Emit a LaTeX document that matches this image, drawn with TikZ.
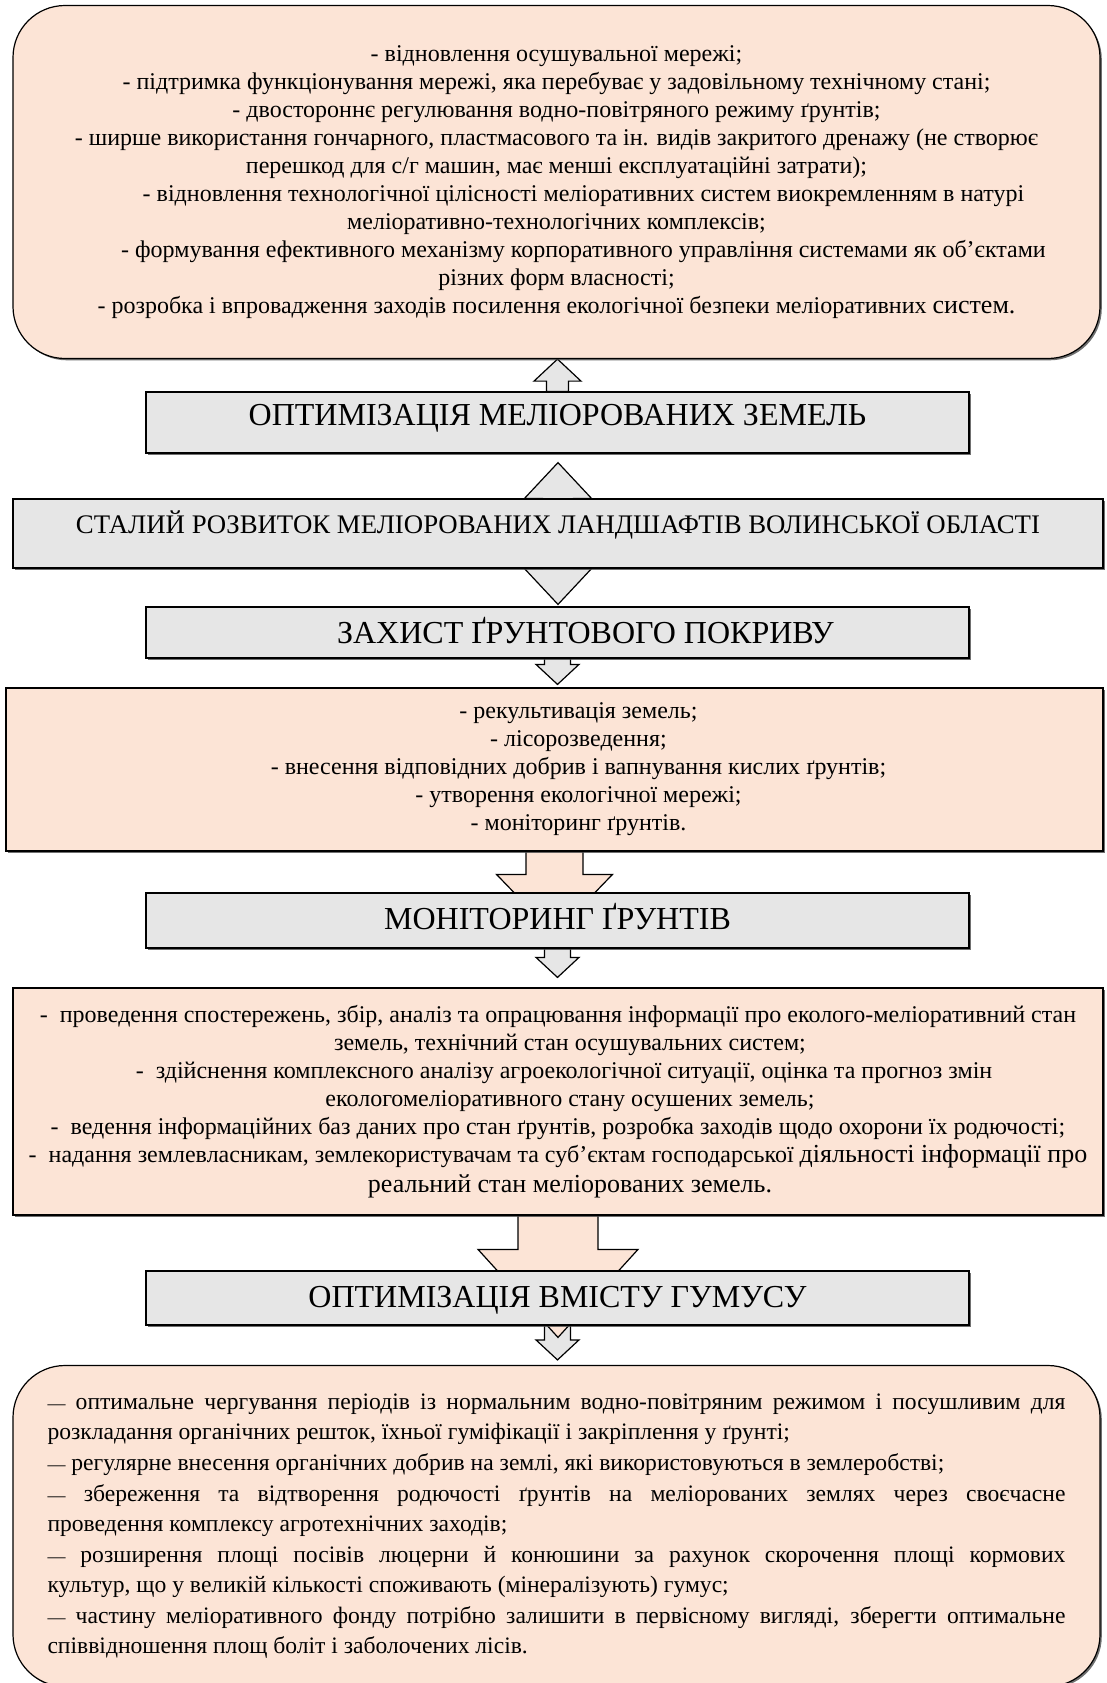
\documentclass[tikz,border=0pt]{standalone}
\usepackage{fontspec}
\setmainfont{Liberation Serif}
\usetikzlibrary{calc,backgrounds,shadows}
\definecolor{peachbg}{RGB}{252,228,214}
\definecolor{greybg}{RGB}{230,230,230}

\begin{document}
\begin{tikzpicture}[x=.5pt,y=-.5pt,
    every node/.style={font=\fontsize{12}{14}\selectfont},
    boxshadow/.style={drop shadow={shadow xshift=.9pt,shadow yshift=-.9pt,fill=black!70,opacity=.8}},
    listbox/.style={draw=black,line width=.6pt,fill=peachbg,inner sep=0pt,align=center,boxshadow},
    roundbox/.style={listbox,rounded corners=26pt},
    headbox/.style={draw=black,line width=.6pt,fill=greybg,inner sep=0pt,minimum width=411.5pt,boxshadow,font=\fontsize{16}{18}\selectfont,text height=.9em,text depth=0pt},
    hollow/.style={draw=black,line width=.6pt,fill=greybg},
    fatarrow/.style={draw=black,line width=.6pt,fill=peachbg}]
  \useasboundingbox (0,0) rectangle (1107,1683);
  % boxes, top to bottom
  \node[roundbox,minimum width=543.5pt,minimum height=176.5pt] (drainacts) at (556.5,182) {- відновлення осушувальної мережі;\\
    - підтримка функціонування мережі, яка перебуває у задовільному технічному стані;\\
    - двостороннє регулювання водно-повітряного режиму ґрунтів;\\
    - ширше використання гончарного, пластмасового та ін. видів закритого дренажу (не створює\\
    перешкод для с/г машин, має менші експлуатаційні затрати);\\
    \hspace*{27pt}- відновлення технологічної цілісності меліоративних систем виокремленням в натурі\\
    меліоративно-технологічних комплексів;\\
    \hspace*{27pt}- формування ефективного механізму корпоративного управління системами як об’єктами\\
    різних форм власності;\\
    - розробка і впровадження заходів посилення екологічної безпеки меліоративних {\fontsize{13}{14}\selectfont систем.}};
  \node[headbox,minimum height=30.5pt,text height=.6em,text depth=.31em] (optim) at (557.5,422.5) {ОПТИМІЗАЦІЯ МЕЛІОРОВАНИХ ЗЕМЕЛЬ};
  \node[headbox,minimum width=545pt,minimum height=34.5pt,font=\fontsize{13.4}{15}\selectfont,text height=.5em,text depth=.5em] (sustain) at (558,533.5) {СТАЛИЙ РОЗВИТОК МЕЛІОРОВАНИХ ЛАНДШАФТІВ ВОЛИНСЬКОЇ ОБЛАСТІ};
  \node[headbox,minimum height=25.5pt,text height=1.1em] (protect) at (557.5,632.5) {\hspace*{28pt}ЗАХИСТ ҐРУНТОВОГО ПОКРИВУ};
  \node[listbox,minimum width=548.5pt,minimum height=81.5pt] (soilacts) at (554.5,769.5) {\hspace*{24pt}- рекультивація земель;\\
    \hspace*{24pt}- лісорозведення;\\
    \hspace*{24pt}- внесення відповідних добрив і вапнування кислих ґрунтів;\\
    \hspace*{24pt}- утворення екологічної мережі;\\
    \hspace*{24pt}- моніторинг ґрунтів.};
  \node[headbox,minimum height=27.5pt] (monit) at (557.5,920.5) {МОНІТОРИНГ ҐРУНТІВ};
  \node[listbox,minimum width=545pt,minimum height=113.5pt] (monacts) at (558,1101.5) {-~ проведення спостережень, збір, аналіз та опрацювання інформації про еколого-меліоративний стан\\
    \hspace*{12pt}земель, технічний стан осушувальних систем;\\
    \hspace*{6pt}-~ здійснення комплексного аналізу агроекологічної ситуації, оцінка та прогноз змін\\
    \hspace*{12pt}екологомеліоративного стану осушених земель;\\
    -~ ведення інформаційних баз даних про стан ґрунтів, розробка заходів щодо охорони їх родючості;\\
    -~ надання землевласникам, землекористувачам та суб’єктам господарської {\fontsize{13}{14}\selectfont діяльності інформації про}\\[1pt]
    {\fontsize{13}{14}\selectfont\hspace*{12pt}реальний стан меліорованих земель.}};
  \node[headbox,minimum height=27pt] (humus) at (557.5,1298) {ОПТИМІЗАЦІЯ ВМІСТУ ГУМУСУ};
  \node[roundbox,minimum width=543.5pt,minimum height=160.5pt,text width=509pt,align=justify,font=\fontsize{11.8}{15}\selectfont] (humacts) at (556.5,1526) {\hyphenpenalty=10000\noindent
    {\fontsize{9}{15}\selectfont —} оптимальне чергування періодів із нормальним водно-повітряним режимом і посушливим для\linebreak
    розкладання органічних решток, їхньої гуміфікації і закріплення у ґрунті;\\[.5pt]
    {\fontsize{9}{15}\selectfont —} регулярне внесення органічних добрив на землі, які використовуються в землеробстві;\\[.5pt]
    {\fontsize{9}{15}\selectfont —} збереження та відтворення родючості ґрунтів на меліорованих землях через своєчасне\linebreak
    проведення комплексу агротехнічних заходів;\\[.5pt]
    {\fontsize{9}{15}\selectfont —} розширення площі посівів люцерни й конюшини за рахунок скорочення площі кормових\linebreak
    культур, що у великій кількості споживають (мінералізують) гумус;\\[.5pt]
    {\fontsize{9}{15}\selectfont —} частину меліоративного фонду потрібно залишити в первісному вигляді, зберегти оптимальне\linebreak
    співвідношення площ боліт і заболочених лісів.};
  % block arrows behind the boxes
  \begin{scope}[on background layer]
    \draw[hollow] let \p1=(optim.north), \p2=(drainacts.south) in (\x1-5.5pt,\y1) -- (\x1-5.5pt,\y2-11pt) -- (\x1-11.75pt,\y2-11pt) -- (\x1,\y2) -- (\x1+11.75pt,\y2-11pt) -- (\x1+5.5pt,\y2-11pt) -- (\x1+5.5pt,\y1) -- cycle;
    \draw[hollow] let \p1=(optim.south), \p2=(sustain.north), \p3=(sustain.south), \p4=(protect.north) in
      (\x2-7.75pt,\y2) -- (\x2-16.75pt,\y2) -- (\x2,\y1-4.5pt) -- (\x2+16.75pt,\y2) -- (\x2+7.75pt,\y2) -- (\x2+7.75pt,\y3) -- (\x2+16.75pt,\y3) -- (\x2,\y4+1pt) -- (\x2-16.75pt,\y3) -- (\x2-7.75pt,\y3) -- cycle;
    \foreach \src/\dst/\gap in {protect/soilacts/1.5pt,monit/monacts/5pt,humus/humacts/2.5pt}
      \draw[hollow] let \p1=(\src.south), \p2=(\dst.north) in (\x1-6.5pt,\y1) -- (\x1-6.5pt,\y2+\gap+10pt) -- (\x1-10.75pt,\y2+\gap+10pt) -- (\x1,\y2+\gap) -- (\x1+10.75pt,\y2+\gap+10pt) -- (\x1+6.5pt,\y2+\gap+10pt) -- (\x1+6.5pt,\y1) -- cycle;
    \foreach \src/\dst/\shaft/\head/\vis/\len in {soilacts/monit/14.25pt/29pt/9pt/30pt,monacts/humus/20pt/40pt/10.5pt/44pt}
      \draw[fatarrow] let \p1=(\src.south), \p2=(\dst.north) in (\x1-\shaft,\y1) -- (\x1-\shaft,\y2+\vis) -- (\x1-\head,\y2+\vis) -- (\x1,\y2+\vis-\len) -- (\x1+\head,\y2+\vis) -- (\x1+\shaft,\y2+\vis) -- (\x1+\shaft,\y1) -- cycle;
  \end{scope}
\end{tikzpicture}
\end{document}
